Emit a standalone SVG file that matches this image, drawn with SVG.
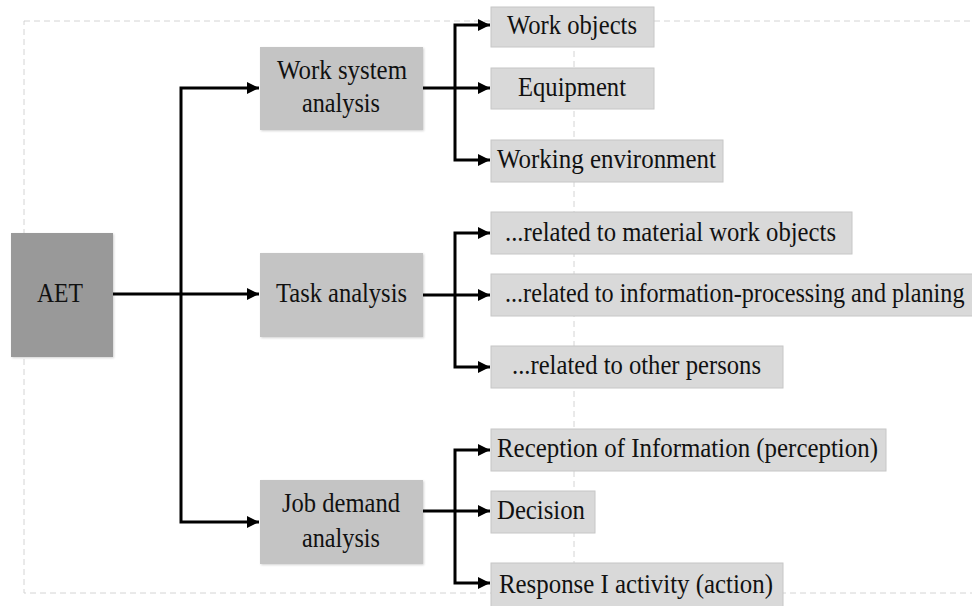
<svg xmlns="http://www.w3.org/2000/svg" width="972" height="606" viewBox="0 0 972 606" font-family="'Liberation Serif', 'Times New Roman', Times, 'DejaVu Serif', serif">
  <defs>
    <marker id="arrow" markerUnits="userSpaceOnUse" markerWidth="13" markerHeight="13" viewBox="0 0 13 13" refX="12" refY="6.5" orient="auto">
      <path d="M0 0.5 L12 6.5 L0 12.5 Z" fill="#000"/>
    </marker>
    <filter id="soft" x="-5%" y="-5%" width="112%" height="115%">
      <feDropShadow dx="1" dy="1" stdDeviation="1" flood-color="#000" flood-opacity="0.18"/>
    </filter>
  </defs>
  <style>
    .lbl { font-family: 'Liberation Serif', 'Times New Roman', Times, 'DejaVu Serif', serif; font-size: 27px; fill: #111; }
    .root { fill: #999999; }
    .mid { fill: #c4c4c4; }
    .leaf { fill: #d9d9d9; stroke: #c6c6c6; stroke-width: 1; }
    .frame { fill: none; stroke: #d4d4d4; stroke-width: 1; stroke-dasharray: 6 4; }
    .link { fill: none; stroke: #000; stroke-width: 3; marker-end: url(#arrow); }
  </style>

  <rect width="972" height="606" fill="#fff"/>

  <!-- dashed frame and centre guide -->
  <rect class="frame" x="24" y="21" width="960" height="572"/>
  <line class="frame" x1="574" y1="21" x2="574" y2="593"/>

  <g id="connectors">
    <path class="link" d="M113 294 H259"/>
    <path class="link" d="M181 294 V88 H259"/>
    <path class="link" d="M181 294 V522 H259"/>

    <path class="link" d="M423 88 H490"/>
    <path class="link" d="M455 88 V25 H490"/>
    <path class="link" d="M455 88 V160 H490"/>

    <path class="link" d="M423 295 H490"/>
    <path class="link" d="M455 295 V233 H490"/>
    <path class="link" d="M455 295 V367 H490"/>

    <path class="link" d="M423 511 H490"/>
    <path class="link" d="M455 511 V450 H490"/>
    <path class="link" d="M455 511 V583 H490"/>
  </g>

  <g id="aet">
    <rect class="root" x="11" y="233" width="102" height="124" filter="url(#soft)"/>
    <text class="lbl" x="37" y="302" textLength="46" lengthAdjust="spacingAndGlyphs">AET</text>
  </g>

  <g id="work-system-analysis">
    <rect class="mid" x="260" y="47" width="163" height="83" filter="url(#soft)"/>
    <text class="lbl" x="277" y="79" textLength="130" lengthAdjust="spacingAndGlyphs">Work system</text>
    <text class="lbl" x="302" y="112" textLength="78" lengthAdjust="spacingAndGlyphs">analysis</text>
  </g>

  <g id="task-analysis">
    <rect class="mid" x="260" y="253" width="163" height="84" filter="url(#soft)"/>
    <text class="lbl" x="276" y="302" textLength="131" lengthAdjust="spacingAndGlyphs">Task analysis</text>
  </g>

  <g id="job-demand-analysis">
    <rect class="mid" x="260" y="480" width="163" height="84" filter="url(#soft)"/>
    <text class="lbl" x="282" y="512" textLength="118" lengthAdjust="spacingAndGlyphs">Job demand</text>
    <text class="lbl" x="302" y="547" textLength="78" lengthAdjust="spacingAndGlyphs">analysis</text>
  </g>

  <g id="work-objects">
    <rect class="leaf" x="491" y="7" width="163" height="40"/>
    <text class="lbl" x="507" y="34" textLength="130" lengthAdjust="spacingAndGlyphs">Work objects</text>
  </g>

  <g id="equipment">
    <rect class="leaf" x="491" y="68" width="163" height="41"/>
    <text class="lbl" x="518" y="96" textLength="108" lengthAdjust="spacingAndGlyphs">Equipment</text>
  </g>

  <g id="working-environment">
    <rect class="leaf" x="491" y="140" width="232" height="42"/>
    <text class="lbl" x="497" y="168" textLength="219" lengthAdjust="spacingAndGlyphs">Working environment</text>
  </g>

  <g id="material-work-objects">
    <rect class="leaf" x="491" y="212" width="361" height="42"/>
    <text class="lbl" x="505" y="241" textLength="331" lengthAdjust="spacingAndGlyphs">...related to material work objects</text>
  </g>

  <g id="information-processing">
    <rect class="leaf" x="491" y="274" width="482" height="42"/>
    <text class="lbl" transform="translate(505 302) scale(0.895 1)">...related to information-processing and planing</text>
  </g>

  <g id="other-persons">
    <rect class="leaf" x="491" y="346" width="292" height="42"/>
    <text class="lbl" x="512" y="374" textLength="249" lengthAdjust="spacingAndGlyphs">...related to other persons</text>
  </g>

  <g id="reception">
    <rect class="leaf" x="491" y="429" width="395" height="42"/>
    <text class="lbl" x="497" y="457" textLength="381" lengthAdjust="spacingAndGlyphs">Reception of Information (perception)</text>
  </g>

  <g id="decision">
    <rect class="leaf" x="491" y="491" width="104" height="42"/>
    <text class="lbl" x="497" y="519" textLength="88" lengthAdjust="spacingAndGlyphs">Decision</text>
  </g>

  <g id="response">
    <rect class="leaf" x="491" y="563" width="292" height="50"/>
    <text class="lbl" x="499" y="593" textLength="274" lengthAdjust="spacingAndGlyphs">Response I activity (action)</text>
  </g>
</svg>
